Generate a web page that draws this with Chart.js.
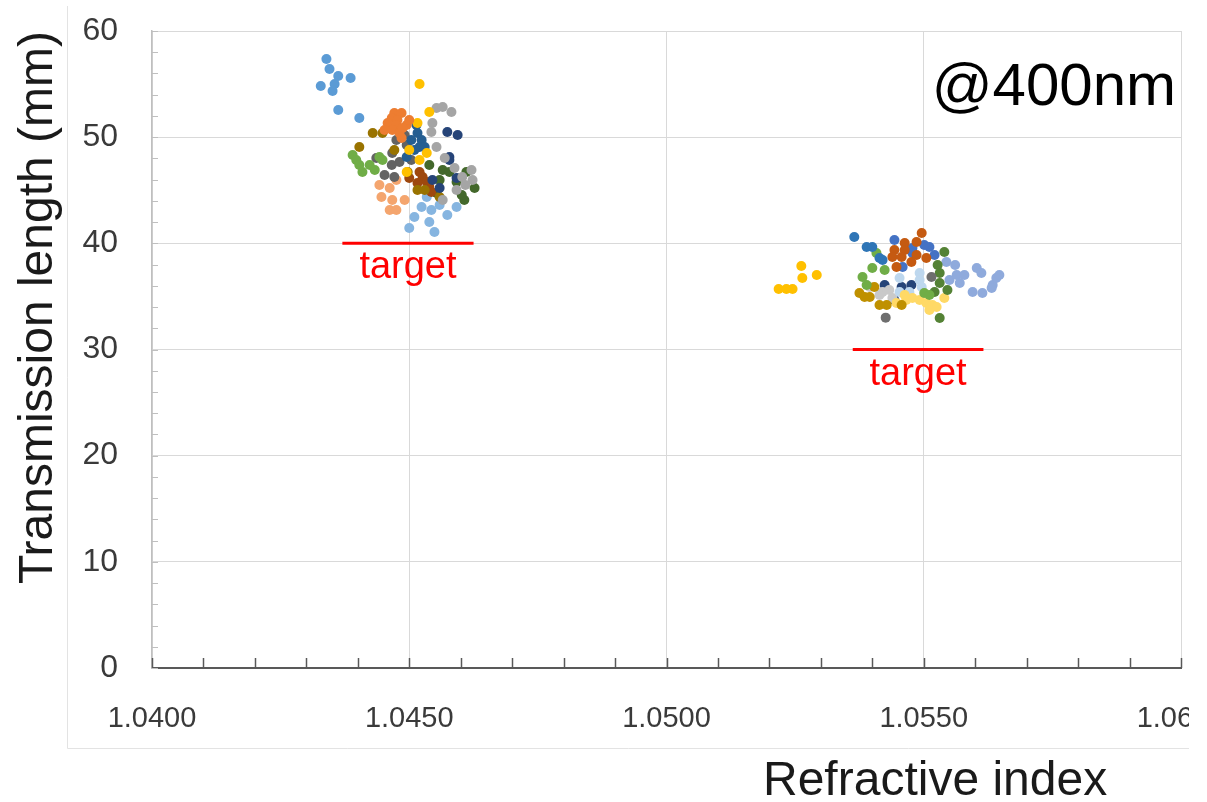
<!DOCTYPE html>
<html>
<head>
<meta charset="utf-8">
<script src="https://cdn.jsdelivr.net/npm/chart.js@4.4.1/dist/chart.umd.min.js"></script>
<style>
  html, body { margin: 0; padding: 0; background: #fff; overflow: hidden; }
  #wrap { width: 1207px; height: 802px; position: relative; }
</style>
</head>
<body>
<div id="wrap"><canvas id="myChart" width="1207" height="802"></canvas></div>
<script>
(function() {
  // axis ranges and tick labels
  var xMin = 1.04, xMax = 1.06, xStep = 0.005, xMinor = 0.001;
  var yMin = 0, yMax = 60, yStep = 10, yMinor = 2;
  var xTitle = 'Refractive index';
  var yTitle = 'Transmission length (mm)';
  var note = '@400nm';

  // target lines [x, y]
  var targetA = [[1.04370, 40], [1.04625, 40]];
  var targetB = [[1.05362, 30], [1.05616, 30]];

  // cluster near n = 1.045
  var blueA = [[1.04339,57.36],[1.04345,56.42],[1.04362,55.76],[1.04386,55.57],[1.04328,54.82],
    [1.04355,55.01],[1.04351,54.35],[1.04362,52.56],[1.04403,51.80]];
  var orangeA = [[1.04471,52.27],[1.04485,52.27],[1.04466,51.80],[1.04477,51.61],[1.04458,51.33],
    [1.04475,51.14],[1.04495,51.14],[1.04467,50.67],[1.04481,50.39],[1.04485,49.92],
    [1.04452,50.67],[1.04500,51.61],[1.04487,50.86]];
  var goldA = [[1.04539,52.37],[1.04520,55.01],[1.04516,51.33],[1.04500,48.79],[1.04534,48.51],
    [1.04495,46.72],[1.04520,47.85]];
  var grayA = [[1.04553,52.75],[1.04565,52.84],[1.04582,52.37],[1.04545,51.33],[1.04543,50.48],[1.04553,49.07],
    [1.04588,47.09],[1.04603,46.25],[1.04621,46.91],[1.04623,45.96],[1.04592,45.02],[1.04565,44.08],
    [1.04569,48.04],[1.04609,45.49]];
  var navyA = [[1.04574,50.48],[1.04594,50.20],[1.04578,48.13],[1.04578,47.85],[1.04545,45.96],
    [1.04592,46.15],[1.04559,45.21]];
  var steelA = [[1.04516,50.39],[1.04524,49.73],[1.04520,49.07],[1.04510,48.79],[1.04530,49.07],
    [1.04495,48.13],[1.04504,49.73],[1.04514,51.14]];
  var oliveA = [[1.04429,50.39],[1.04448,50.39],[1.04403,49.07],[1.04497,46.72],[1.04516,45.02],
    [1.04530,45.02],[1.04559,44.36],[1.04471,48.79]];
  var greenA = [[1.04390,48.32],[1.04397,47.85],[1.04403,47.38],[1.04409,46.72],[1.04423,47.38],
    [1.04442,48.13],[1.04448,47.85],[1.04433,46.91]];
  var darkGrayA = [[1.04436,48.04],[1.04467,48.51],[1.04481,47.66],[1.04466,47.38],[1.04452,46.43],
    [1.04471,46.25],[1.04495,49.26],[1.04475,49.73],[1.04491,50.20],[1.04504,47.85]];
  var peachA = [[1.04442,45.49],[1.04462,45.21],[1.04475,45.96],[1.04467,44.08],[1.04446,44.36],
    [1.04462,43.14],[1.04475,43.14],[1.04491,44.08]];
  var brownA = [[1.04520,46.72],[1.04526,46.25],[1.04534,45.78],[1.04516,45.68],[1.04539,45.30],
    [1.04500,46.15],[1.04543,44.83]];
  var forestA = [[1.04565,46.91],[1.04578,46.72],[1.04592,45.78],[1.04611,46.72],[1.04627,45.21],
    [1.04607,44.08],[1.04602,44.55],[1.04553,44.74],[1.04539,47.38],[1.04559,45.96]];
  var skyA = [[1.04534,44.36],[1.04524,43.42],[1.04510,42.48],[1.04543,43.14],[1.04559,43.61],
    [1.04592,43.42],[1.04500,41.44],[1.04549,41.07],[1.04539,42.01],[1.04574,42.67]];

  // cluster near n = 1.055
  var goldB = [[1.05262,37.86],[1.05264,36.73],[1.05292,37.02],[1.05218,35.70],[1.05233,35.70],[1.05245,35.70]];
  var blueB = [[1.05365,40.60],[1.05389,39.65],[1.05400,39.65],[1.05414,38.62],[1.05420,38.43]];
  var greenB = [[1.05408,39.09],[1.05400,37.68],[1.05381,36.83],[1.05389,36.07],[1.05501,35.32],
    [1.05511,35.13],[1.05424,37.49]];
  var oliveB = [[1.05375,35.32],[1.05385,34.94],[1.05404,35.89],[1.05395,34.94],[1.05428,34.19],
    [1.05457,34.19],[1.05414,34.19]];
  var darkGrayB = [[1.05426,33.00],[1.05515,36.83]];
  var orangeB = [[1.05496,40.97],[1.05486,40.12],[1.05463,40.03],[1.05443,39.37],[1.05463,39.37],
    [1.05439,38.71],[1.05457,38.71],[1.05486,38.90],[1.05447,37.77],[1.05505,38.62],[1.05476,38.24]];
  var royalB = [[1.05443,40.31],[1.05511,39.65],[1.05478,39.56],[1.05521,38.90],[1.05459,37.77],
    [1.05478,39.09],[1.05501,39.84]];
  var forestB = [[1.05540,39.18],[1.05527,37.96],[1.05531,37.20],[1.05531,36.26],[1.05521,35.41],
    [1.05531,32.97],[1.05546,35.60]];
  var periB = [[1.05544,38.24],[1.05550,36.55],[1.05564,37.02],[1.05570,36.26],[1.05579,37.02],[1.05603,37.68],
    [1.05612,37.20],[1.05595,35.41],[1.05614,35.32],[1.05634,36.07],[1.05641,36.73],[1.05647,37.02],
    [1.05632,35.79],[1.05561,37.96]];
  var creamB = [[1.05478,34.85],[1.05492,34.66],[1.05505,34.38],[1.05517,34.19],[1.05525,34.00],
    [1.05447,34.38],[1.05466,34.66],[1.05540,34.85],[1.05463,35.13],[1.05511,33.72]];
  var skyB = [[1.05492,37.20],[1.05492,36.55],[1.05496,35.89],[1.05453,36.73],[1.05453,35.41],[1.05472,35.41]];
  var silverB = [[1.05420,35.41],[1.05433,35.60],[1.05439,34.85],[1.05414,35.13],[1.05395,35.89]];
  var navyB = [[1.05424,36.07],[1.05476,36.07],[1.05457,35.89],[1.05443,34.66]];

  var series = [
    [blueA, '#5B9BD5'], [orangeA, '#ED7D31'], [goldA, '#FFC000'], [grayA, '#A5A5A5'],
    [navyA, '#264478'], [steelA, '#255E91'], [oliveA, '#997300'], [greenA, '#70AD47'],
    [darkGrayA, '#636363'], [peachA, '#F4A56E'], [brownA, '#9E480E'], [forestA, '#43682B'],
    [skyA, '#86B5E0'],
    [goldB, '#FFC000'], [blueB, '#2E75B6'], [greenB, '#70AD47'], [oliveB, '#BF9000'],
    [darkGrayB, '#6E6E6E'], [orangeB, '#C55A11'], [royalB, '#4472C4'], [forestB, '#548235'],
    [periB, '#8FAADC'], [creamB, '#FFD966'], [skyB, '#BDD7EE'], [silverB, '#C9C9C9'], [navyB, '#264478']
  ];

  function toPoints (arr) {
    return arr.map(function (p) { return { x: p[0], y: p[1] }; });
  }

  var datasets = [];
  series.forEach(function (s) {
    datasets.push({
      data: toPoints(s[0]),
      backgroundColor: s[1],
      borderWidth: 0,
      pointRadius: 5,
      pointHoverRadius: 5
    });
  });
  [targetA, targetB].forEach(function (t) {
    datasets.push({
      data: toPoints(t),
      showLine: true,
      borderColor: '#FF0000',
      borderWidth: 3,
      pointRadius: 0
    });
  });

  var sansFont = '"Liberation Sans", Arial, sans-serif';

  var decor = {
    id: 'decor',
    afterDraw: function (chart) {
      var ctx = chart.ctx;
      var xs = chart.scales.x, ys = chart.scales.y;
      var area = chart.chartArea;
      ctx.save();

      // minor ticks, inside the plot
      var i, px, py;
      ctx.strokeStyle = '#595959';
      ctx.lineWidth = 1.5;
      for (i = 0; i <= Math.round((xMax - xMin) / xMinor); i++) {
        px = Math.round(xs.getPixelForValue(xMin + i * xMinor)) + 0.5;
        ctx.beginPath();
        ctx.moveTo(px, area.bottom);
        ctx.lineTo(px, area.bottom - 10);
        ctx.stroke();
      }
      ctx.strokeStyle = '#BFBFBF';
      ctx.lineWidth = 1;
      for (i = 0; i <= (yMax - yMin) / yMinor; i++) {
        py = Math.round(ys.getPixelForValue(yMin + i * yMinor)) + 0.5;
        ctx.beginPath();
        ctx.moveTo(area.left, py);
        ctx.lineTo(area.left + 6, py);
        ctx.stroke();
      }

      // target labels under each red line
      ctx.fillStyle = '#FF0000';
      ctx.font = '38px ' + sansFont;
      ctx.textAlign = 'center';
      ctx.textBaseline = 'alphabetic';
      [targetA, targetB].forEach(function (t) {
        var mx = xs.getPixelForValue((t[0][0] + t[1][0]) / 2);
        var my = ys.getPixelForValue(t[0][1]);
        ctx.fillText('target', mx, my + 35);
      });

      // wavelength note
      ctx.fillStyle = '#000';
      ctx.font = '60px ' + sansFont;
      ctx.textAlign = 'right';
      ctx.fillText(note, area.right - 5, 105);

      // clip the last tick label like the original frame does
      ctx.fillStyle = '#fff';
      ctx.fillRect(1189, area.bottom + 10, 30, 80);

      // outer frame
      ctx.strokeStyle = '#E3E3E3';
      ctx.lineWidth = 1;
      ctx.beginPath();
      ctx.moveTo(67.5, 6);
      ctx.lineTo(67.5, 748.5);
      ctx.lineTo(1189, 748.5);
      ctx.stroke();

      // x axis title
      ctx.fillStyle = '#1a1a1a';
      ctx.font = '48px ' + sansFont;
      ctx.textAlign = 'left';
      ctx.fillText(xTitle, 763, 795);
      ctx.restore();
    }
  };

  var chart = new Chart(document.getElementById('myChart').getContext('2d'), {
    type: 'scatter',
    data: { datasets: datasets },
    plugins: [decor],
    options: {
      responsive: false,
      animation: false,
      devicePixelRatio: 1,
      layout: { padding: { top: 31, right: 26, left: 0, bottom: 0 } },
      plugins: { legend: { display: false }, tooltip: { enabled: false } },
      scales: {
        x: {
          type: 'linear',
          min: xMin,
          max: xMax,
          afterFit: function (scale) {
            scale.height = 134;
            scale.paddingRight = 0;
            scale.paddingLeft = 0;
          },
          ticks: {
            stepSize: xStep,
            padding: 34,
            color: '#3a3a3a',
            font: { family: sansFont, size: 29 },
            maxRotation: 0,
            callback: function (v) { return Number(v).toFixed(4); }
          },
          grid: { color: '#D9D9D9', lineWidth: 1, drawTicks: false },
          border: { color: '#595959', width: 2 }
        },
        y: {
          type: 'linear',
          min: yMin,
          max: yMax,
          afterFit: function (scale) {
            scale.width = 152;
            scale.paddingTop = 0;
            scale.paddingBottom = 0;
          },
          ticks: {
            stepSize: yStep,
            padding: 34,
            color: '#3a3a3a',
            font: { family: sansFont, size: 32 }
          },
          grid: { color: '#D9D9D9', lineWidth: 1, drawTicks: false },
          border: { color: '#BFBFBF', width: 1.5 },
          title: {
            display: true,
            text: yTitle,
            align: 'end',
            color: '#1a1a1a',
            font: { family: sansFont, size: 48 },
            padding: { top: 10, bottom: 0 }
          }
        }
      }
    }
  });
})();
</script>
</body>
</html>
